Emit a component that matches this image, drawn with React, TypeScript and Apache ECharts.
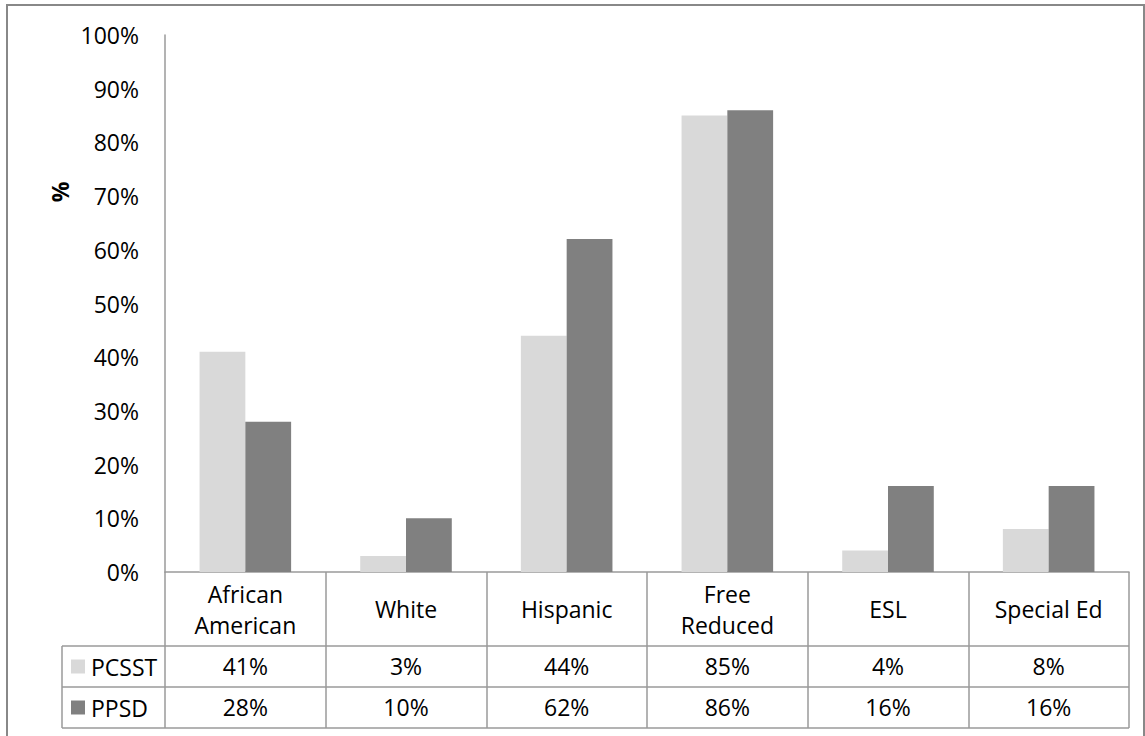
import React, { useEffect, useRef } from "react";
import * as echarts from "echarts";

const categories = ["African\nAmerican", "White", "Hispanic", "Free\nReduced", "ESL", "Special Ed"];
const seriesNames = ["PCSST", "PPSD"];
const pcsst = [41, 3, 44, 85, 4, 8];
const ppsd = [28, 10, 62, 86, 16, 16];
const colors = ["#d9d9d9", "#808080"];
const yTicks = { min: 0, max: 100, interval: 10 };

const FONT = "'Open Sans', sans-serif";
const FS = 23;
const LINE = "#9a9a9a";

export default function App() {
  const ref = useRef<HTMLDivElement>(null);
  useEffect(() => {
    const chart = echarts.init(ref.current!, null, { renderer: "svg" });
    const fmt = (v: number) => `${v}%`;
    const valueAxis = (data: number[], offset: number) => ({
      type: "category",
      data: data.map(fmt),
      position: "bottom",
      offset,
      axisLine: { show: false },
      axisTick: { show: false },
      axisLabel: {
        interval: 0,
        margin: 0,
        fontSize: FS,
        lineHeight: 22,
        verticalAlign: "middle",
        color: "#000",
        fontFamily: FONT,
      },
      splitLine: { show: false },
    });
    const legendText = { fontSize: FS, lineHeight: 22, color: "#000", fontFamily: FONT, padding: [0, 0, 0, 1] };
    chart.setOption({
      animation: false,
      backgroundColor: "#fff",
      textStyle: { fontFamily: FONT },
      grid: { left: 165, top: 35, right: 16, bottom: 164, containLabel: false },
      legend: [
        {
          data: [seriesNames[0]],
          left: 71,
          top: 655,
          padding: 0,
          itemWidth: 14,
          itemHeight: 14,
          icon: "rect",
          textStyle: legendText,
        },
        {
          data: [seriesNames[1]],
          left: 71,
          top: 696,
          padding: 0,
          itemWidth: 14,
          itemHeight: 14,
          icon: "rect",
          textStyle: legendText,
        },
      ],
      xAxis: [
        {
          type: "category",
          data: categories,
          position: "bottom",
          axisLine: { show: true, lineStyle: { color: LINE, width: 1.5 } },
          axisTick: { show: true, length: 156, lineStyle: { color: LINE, width: 1.5 } },
          axisLabel: {
            interval: 0,
            margin: 37,
            fontSize: FS,
            lineHeight: 31,
            verticalAlign: "middle",
            color: "#000",
            fontFamily: FONT,
          },
          splitLine: { show: false },
        },
        valueAxis(pcsst, 94),
        valueAxis(ppsd, 135),
      ],
      yAxis: {
        type: "value",
        min: yTicks.min,
        max: yTicks.max,
        interval: yTicks.interval,
        axisLine: { show: true, lineStyle: { color: LINE, width: 1.5 } },
        axisTick: { show: false },
        splitLine: { show: false },
        axisLabel: { formatter: "{value}%", fontSize: FS, color: "#000", margin: 26, fontFamily: FONT },
      },
      series: [
        {
          name: seriesNames[0],
          type: "bar",
          data: pcsst,
          itemStyle: { color: colors[0] },
          barGap: "0%",
          barCategoryGap: "43%",
        },
        {
          name: seriesNames[1],
          type: "bar",
          data: ppsd,
          itemStyle: { color: colors[1] },
          barGap: "0%",
          barCategoryGap: "43%",
        },
      ],
      graphic: [
        {
          type: "rect",
          shape: { x: 7, y: 5, width: 1137, height: 740 },
          style: { fill: "none", stroke: "#888", lineWidth: 2 },
          silent: true,
        },
        {
          type: "line",
          shape: { x1: 62, y1: 646, x2: 1129, y2: 646 },
          style: { stroke: LINE, lineWidth: 1.5 },
        },
        {
          type: "line",
          shape: { x1: 62, y1: 687, x2: 1129, y2: 687 },
          style: { stroke: LINE, lineWidth: 1.5 },
        },
        {
          type: "line",
          shape: { x1: 62, y1: 728, x2: 1129, y2: 728 },
          style: { stroke: LINE, lineWidth: 1.5 },
        },
        {
          type: "line",
          shape: { x1: 62, y1: 646, x2: 62, y2: 728 },
          style: { stroke: LINE, lineWidth: 1.5 },
        },
        {
          type: "text",
          x: 60,
          y: 192,
          rotation: Math.PI / 2,
          style: {
            text: "%",
            fontSize: FS,
            fontWeight: "bold",
            fill: "#000",
            fontFamily: FONT,
            align: "center",
            verticalAlign: "middle",
          },
        },
      ],
    });
    return () => chart.dispose();
  }, []);
  return (
    <div
      ref={ref}
      style={{ position: "absolute", left: 0, top: 0, width: 1145, height: 736 }}
    />
  );
}
